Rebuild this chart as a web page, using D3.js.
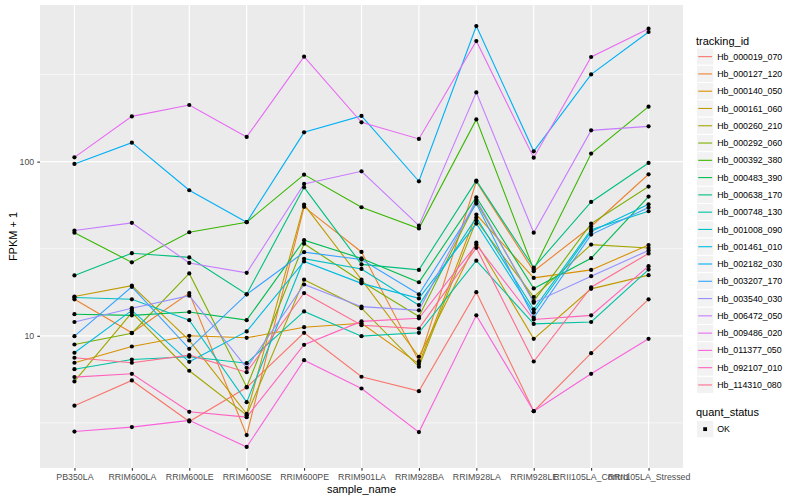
<!DOCTYPE html>
<html><head><meta charset="utf-8">
<script src="https://cdn.jsdelivr.net/npm/d3@7/dist/d3.min.js"></script>
<style>body{margin:0;background:#fff} text{font-family:"Liberation Sans",Arial,Helvetica,sans-serif}</style>
</head><body><svg id="chart" width="800" height="500"></svg>
<script>
const samples = ["PB350LA","RRIM600LA","RRIM600LE","RRIM600SE","RRIM600PE","RRIM901LA","RRIM928BA","RRIM928LA","RRIM928LE","RRII105LA_Control","RRII105LA_Stressed"];
const trackingIds = ["Hb_000019_070","Hb_000127_120","Hb_000140_050","Hb_000161_060","Hb_000260_210","Hb_000292_060","Hb_000392_380","Hb_000483_390","Hb_000638_170","Hb_000748_130","Hb_001008_090","Hb_001461_010","Hb_002182_030","Hb_003207_170","Hb_003540_030","Hb_006472_050","Hb_009486_020","Hb_011377_050","Hb_092107_010","Hb_114310_080"];
const quantStatus = ["OK"];
const yTickValues = [10, 100];

// FPKM + 1 per tracking_id, in sample order
const hb_000019_070 = [3.97, 5.54, 3.22, 5.05, 10.4, 5.82, 4.81, 17.8, 3.69, 7.95, 16.2];
const hb_000127_120 = [16.2, 10.4, 17.6, 2.69, 55.0, 30.3, 7.15, 76.8, 23.5, 42.4, 84.6];
const hb_000140_050 = [7.0, 8.68, 10.0, 9.74, 11.2, 11.8, 6.89, 49.7, 21.5, 23.9, 33.2];
const hb_000161_060 = [16.8, 19.4, 9.40, 3.56, 56.7, 21.0, 7.58, 34.3, 9.61, 18.6, 22.3];
const hb_000260_210 = [5.47, 13.6, 6.30, 3.50, 21.0, 14.4, 6.64, 45.9, 16.7, 33.4, 31.9];
const hb_000292_060 = [8.91, 10.35, 22.8, 5.08, 33.8, 20.5, 12.9, 58.9, 15.8, 44.1, 71.9];
const hb_000392_380 = [39.1, 26.4, 39.3, 44.9, 84.2, 54.7, 41.3, 174.8, 24.0, 111.2, 206.9];
const hb_000483_390 = [13.3, 13.1, 13.7, 12.3, 35.4, 27.8, 20.3, 62.4, 18.7, 27.9, 63.0];
const hb_000638_170 = [22.2, 29.8, 28.2, 17.3, 71.2, 25.7, 23.9, 77.8, 24.6, 58.7, 98.3];
const hb_000748_130 = [6.43, 7.31, 7.58, 6.96, 13.8, 9.95, 10.4, 27.0, 11.7, 12.0, 24.0];
const hb_001008_090 = [16.6, 16.2, 12.3, 4.16, 27.7, 24.2, 15.0, 47.7, 14.2, 40.7, 51.9];
const hb_001461_010 = [7.99, 14.0, 7.09, 10.6, 26.7, 20.0, 16.4, 44.1, 13.6, 39.7, 56.9];
const hb_002182_030 = [97.0, 128.5, 68.5, 44.9, 147.3, 182.9, 77.1, 600.5, 114.6, 316.9, 554.9];
const hb_003207_170 = [9.95, 19.1, 8.42, 17.3, 30.2, 27.4, 17.3, 57.4, 12.7, 38.1, 54.5];
const hb_003540_030 = [12.0, 14.4, 17.0, 6.55, 19.7, 14.7, 14.0, 60.5, 15.5, 22.0, 30.9];
const hb_006472_050 = [40.2, 44.5, 26.2, 23.0, 74.5, 88.0, 42.9, 249.8, 39.1, 151.2, 159.4];
const hb_009486_020 = [105.8, 181.9, 211.5, 138.6, 400.4, 168.1, 135.0, 492.6, 105.4, 398.8, 579.6];
const hb_011377_050 = [2.82, 2.99, 3.27, 2.30, 7.24, 4.98, 2.80, 13.1, 3.69, 6.05, 9.61];
const hb_092107_010 = [5.79, 6.05, 3.66, 3.41, 8.88, 12.1, 12.6, 33.4, 12.4, 13.1, 25.1];
const hb_114310_080 = [7.48, 7.0, 7.74, 6.18, 17.6, 11.5, 11.0, 32.0, 7.12, 19.0, 29.7];

const seriesValues = [hb_000019_070,hb_000127_120,hb_000140_050,hb_000161_060,hb_000260_210,hb_000292_060,hb_000392_380,hb_000483_390,hb_000638_170,hb_000748_130,hb_001008_090,hb_001461_010,hb_002182_030,hb_003207_170,hb_003540_030,hb_006472_050,hb_009486_020,hb_011377_050,hb_092107_010,hb_114310_080];

const palette = ["#F8766D","#EA8331","#D89000","#C09B00","#A3A500","#7CAE00","#39B600","#00BB4E","#00BF7D","#00C1A3","#00BFC4","#00BAE0","#00B0F6","#35A2FF","#9590FF","#C77CFF","#E76BF3","#FA62DB","#FF62BC","#FF6C91"];

const series = trackingIds.map((id, i) => ({
  id, color: palette[i],
  pts: samples.map((s, j) => ({sample: s, value: seriesValues[i][j]}))
}));

const P = {left: 40, right: 683, top: 5, bottom: 468};
const svg = d3.select("#chart");

const x = d3.scalePoint().domain(samples).range([P.left, P.right]).padding(0.6);
const allVals = seriesValues.flat();
const lo = Math.log10(d3.min(allVals)), hi = Math.log10(d3.max(allVals));
const pad = (hi - lo) * 0.05;
const y = d3.scaleLog().domain([Math.pow(10, lo - pad), Math.pow(10, hi + pad)]).range([P.bottom, P.top]);

// panel
svg.append("rect").attr("x", P.left).attr("y", P.top).attr("width", P.right - P.left).attr("height", P.bottom - P.top).attr("fill", "#EBEBEB");

const [d0, d1] = y.domain();
const minor = [];
for (let e = -1; e <= 4; e++) { const v = Math.pow(10, e + 0.5); if (v > d0 && v < d1) minor.push(v); }
const g = svg.append("g");
g.selectAll(".minor").data(minor).join("line")
  .attr("x1", P.left).attr("x2", P.right).attr("y1", d => y(d)).attr("y2", d => y(d))
  .attr("stroke", "#fff").attr("stroke-width", 0.6);
g.selectAll(".majy").data(yTickValues).join("line")
  .attr("x1", P.left).attr("x2", P.right).attr("y1", d => y(d)).attr("y2", d => y(d))
  .attr("stroke", "#fff").attr("stroke-width", 1.2);
g.selectAll(".majx").data(samples).join("line")
  .attr("x1", d => x(d)).attr("x2", d => x(d)).attr("y1", P.top).attr("y2", P.bottom)
  .attr("stroke", "#fff").attr("stroke-width", 1.2);

// lines
const line = d3.line().x(d => x(d.sample)).y(d => y(d.value));
svg.append("g").selectAll("path").data(series).join("path")
  .attr("d", d => line(d.pts)).attr("fill", "none").attr("stroke", d => d.color).attr("stroke-width", 1.1);

// points
svg.append("g").selectAll("circle").data(series.flatMap(s => s.pts)).join("circle")
  .attr("cx", d => x(d.sample)).attr("cy", d => y(d.value)).attr("r", 2.1).attr("fill", "#000");

// axes
const xAxis = d3.axisBottom(x).tickSize(2.75).tickPadding(3.5);
const gx = svg.append("g").attr("transform", `translate(0,${P.bottom})`).call(xAxis);
const yAxis = d3.axisLeft(y).tickValues(yTickValues).tickFormat(d3.format("d")).tickSize(2.75).tickPadding(3);
const gy = svg.append("g").attr("transform", `translate(${P.left},0)`).call(yAxis);
[gx, gy].forEach(a => {
  a.select(".domain").remove();
  a.selectAll(".tick line").attr("stroke", "#333333").attr("stroke-width", 1.07);
  a.selectAll(".tick text").attr("fill", "#4D4D4D").style("font-size", "8.8px").style("font-family", '"Liberation Sans",Arial,sans-serif');
});

svg.append("text").attr("x", (P.left + P.right) / 2).attr("y", 492.5).attr("text-anchor", "middle")
  .style("font-size", "11px").attr("fill", "#000").text("sample_name");
svg.append("text").attr("transform", `translate(17,${(P.top + P.bottom) / 2}) rotate(-90)`).attr("text-anchor", "middle")
  .style("font-size", "11px").attr("fill", "#000").text("FPKM + 1");

// legend: tracking_id
const L = svg.append("g");
L.append("text").attr("x", 696).attr("y", 44.5).style("font-size", "11px").text("tracking_id");
const keyH = 17.28, key0 = 48;
const items = L.selectAll(".item").data(series).join("g")
  .attr("transform", (d, i) => `translate(696.5,${key0 + i * keyH})`);
items.append("rect").attr("width", keyH).attr("height", keyH).attr("fill", "#F2F2F2").attr("stroke", "#fff").attr("stroke-width", 1);
items.append("line").attr("x1", 1.7).attr("x2", keyH - 1.7).attr("y1", keyH / 2).attr("y2", keyH / 2)
  .attr("stroke", d => d.color).attr("stroke-width", 1.1);
items.append("text").attr("x", keyH + 3.4).attr("y", keyH / 2 + 3.1).style("font-size", "8.8px").text(d => d.id);

// legend: quant_status
const Q = svg.append("g");
Q.append("text").attr("x", 696).attr("y", 416).style("font-size", "11px").text("quant_status");
const qi = Q.selectAll(".q").data(quantStatus).join("g").attr("transform", (d, i) => `translate(696.5,${420.5 + i * keyH})`);
qi.append("rect").attr("width", keyH).attr("height", keyH).attr("fill", "#F2F2F2").attr("stroke", "#fff");
qi.append("rect").attr("x", keyH / 2 - 1.9).attr("y", keyH / 2 - 1.9).attr("width", 3.8).attr("height", 3.8).attr("fill", "#000");
qi.append("text").attr("x", keyH + 3.4).attr("y", keyH / 2 + 3.1).style("font-size", "8.8px").text(d => d);
</script></body></html>
